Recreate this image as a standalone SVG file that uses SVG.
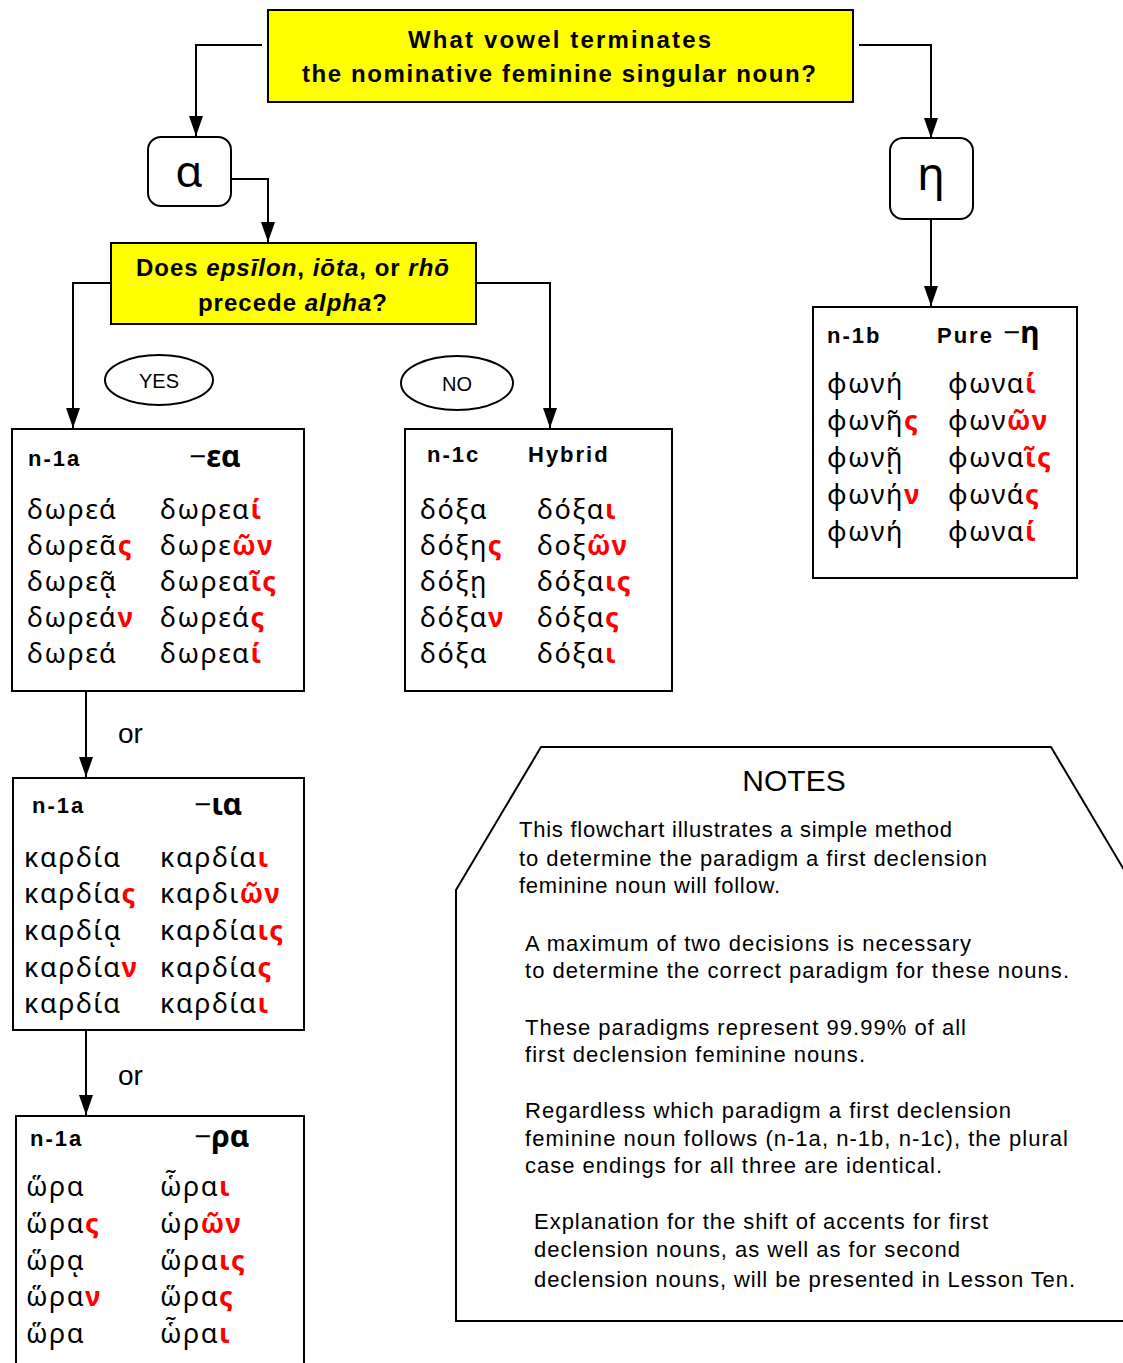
<svg xmlns="http://www.w3.org/2000/svg" width="1123" height="1363" viewBox="0 0 1123 1363">
<defs>
<marker id="arr" viewBox="0 0 20 14" refX="20" refY="7" markerWidth="20" markerHeight="14" markerUnits="userSpaceOnUse" orient="auto">
<path d="M0,0 L20,7 L0,14 z" fill="#000"/>
</marker>
<style>
.box{fill:#fff;stroke:#000;stroke-width:2}
.ybox{fill:#ffff00;stroke:#000;stroke-width:2}
.con{fill:none;stroke:#000;stroke-width:2;marker-end:url(#arr)}
.q{font-family:"Liberation Sans",Arial,sans-serif;font-weight:bold;font-size:24px;fill:#000}
.hd{font-family:"Liberation Sans",Arial,sans-serif;font-weight:bold;font-size:22px;letter-spacing:2px;fill:#000}
.gh{font-family:"Noto Sans","DejaVu Sans",sans-serif;font-weight:bold;font-size:30px;fill:#000}
.g{font-family:"Noto Sans","DejaVu Sans",sans-serif;font-size:27px;letter-spacing:1.5px;fill:#000}
.r{fill:#ff0000;font-weight:bold}
.lbl{font-family:"Liberation Sans",Arial,sans-serif;font-size:20px;fill:#000}
.or{font-family:"Liberation Sans",Arial,sans-serif;font-size:28px;fill:#000}
.nt{font-family:"Liberation Sans",Arial,sans-serif;font-size:22px;fill:#000}
</style>
</defs>
<rect width="1123" height="1363" fill="#fff"/>

<g id="connectors">
<polyline class="con" points="262,45 196,45 196,136"/>
<polyline class="con" points="859,45 931,45 931,138"/>
<polyline class="con" points="231,179 268,179 268,242"/>
<polyline class="con" points="111,283 73,283 73,428"/>
<polyline class="con" points="476,283 550,283 550,428"/>
<polyline class="con" points="931,219 931,306"/>
<polyline class="con" points="86,691 86,777"/>
<polyline class="con" points="86,1030 86,1115"/>
<text class="or" x="118" y="743">or</text>
<text class="or" x="118" y="1085">or</text>
</g>

<g id="q1">
<rect class="ybox" x="268" y="10" width="585" height="92"/>
<text class="q" x="408" y="48" textLength="303" lengthAdjust="spacing">What vowel terminates</text>
<text class="q" x="302" y="82" textLength="514" lengthAdjust="spacing">the nominative feminine singular noun?</text>
</g>

<g id="alpha">
<rect class="box" x="148" y="137" width="83" height="69" rx="13"/>
<text x="189" y="187" text-anchor="middle" font-family="Noto Sans,DejaVu Sans,sans-serif" font-size="44">α</text>
</g>

<g id="eta">
<rect class="box" x="890" y="138" width="83" height="81" rx="13"/>
<text x="931" y="190" text-anchor="middle" font-family="Noto Sans,DejaVu Sans,sans-serif" font-size="46">η</text>
</g>

<g id="q2">
<rect class="ybox" x="111" y="243" width="365" height="81"/>
<text class="q" x="293" y="276" text-anchor="middle" letter-spacing="1">Does <tspan font-style="italic">epsīlon</tspan>, <tspan font-style="italic">iōta</tspan>, or <tspan font-style="italic">rhō</tspan></text>
<text class="q" x="293" y="311" text-anchor="middle" letter-spacing="1">precede <tspan font-style="italic">alpha</tspan>?</text>
</g>

<g id="yes">
<ellipse cx="159" cy="380" rx="54" ry="25" fill="#fff" stroke="#000" stroke-width="2"/>
<text class="lbl" x="159" y="388" text-anchor="middle">YES</text>
</g>

<g id="no">
<ellipse cx="457" cy="383" rx="56" ry="27" fill="#fff" stroke="#000" stroke-width="2"/>
<text class="lbl" x="457" y="391" text-anchor="middle">NO</text>
</g>

<g id="n1a-ea">
<rect class="box" x="12" y="429" width="292" height="262"/>
<text class="hd" x="28" y="466">n-1a</text>
<text class="gh" x="189" y="467"><tspan font-weight="normal">−</tspan>εα</text>
<text class="g" x="27" y="519">δωρεά</text>
<text class="g" x="27" y="555">δωρεᾶ<tspan class="r">ς</tspan></text>
<text class="g" x="27" y="591">δωρεᾷ</text>
<text class="g" x="27" y="627">δωρεά<tspan class="r">ν</tspan></text>
<text class="g" x="27" y="663">δωρεά</text>
<text class="g" x="160" y="519">δωρεα<tspan class="r">ί</tspan></text>
<text class="g" x="160" y="555">δωρε<tspan class="r">ῶν</tspan></text>
<text class="g" x="160" y="591">δωρεα<tspan class="r">ῖς</tspan></text>
<text class="g" x="160" y="627">δωρεά<tspan class="r">ς</tspan></text>
<text class="g" x="160" y="663">δωρεα<tspan class="r">ί</tspan></text>
</g>

<g id="n1c">
<rect class="box" x="405" y="429" width="267" height="262"/>
<text class="hd" x="427" y="462">n-1c</text>
<text class="hd" x="528" y="462">Hybrid</text>
<text class="g" x="420" y="519">δόξα</text>
<text class="g" x="420" y="555">δόξη<tspan class="r">ς</tspan></text>
<text class="g" x="420" y="591">δόξῃ</text>
<text class="g" x="420" y="627">δόξα<tspan class="r">ν</tspan></text>
<text class="g" x="420" y="663">δόξα</text>
<text class="g" x="537" y="519">δόξα<tspan class="r">ι</tspan></text>
<text class="g" x="537" y="555">δοξ<tspan class="r">ῶν</tspan></text>
<text class="g" x="537" y="591">δόξα<tspan class="r">ις</tspan></text>
<text class="g" x="537" y="627">δόξα<tspan class="r">ς</tspan></text>
<text class="g" x="537" y="663">δόξα<tspan class="r">ι</tspan></text>
</g>

<g id="n1b">
<rect class="box" x="813" y="307" width="264" height="271"/>
<text class="hd" x="827" y="343">n-1b</text>
<text class="hd" x="937" y="343">Pure</text>
<text class="gh" x="1003" y="343" font-size="28"><tspan font-weight="normal">−</tspan>η</text>
<text class="g" x="827" y="393">φωνή</text>
<text class="g" x="827" y="430">φωνῆ<tspan class="r">ς</tspan></text>
<text class="g" x="827" y="467">φωνῇ</text>
<text class="g" x="827" y="504">φωνή<tspan class="r">ν</tspan></text>
<text class="g" x="827" y="541">φωνή</text>
<text class="g" x="948" y="393">φωνα<tspan class="r">ί</tspan></text>
<text class="g" x="948" y="430">φων<tspan class="r">ῶν</tspan></text>
<text class="g" x="948" y="467">φωνα<tspan class="r">ῖς</tspan></text>
<text class="g" x="948" y="504">φωνά<tspan class="r">ς</tspan></text>
<text class="g" x="948" y="541">φωνα<tspan class="r">ί</tspan></text>
</g>

<g id="n1a-ia">
<rect class="box" x="13" y="778" width="291" height="252"/>
<text class="hd" x="32" y="813">n-1a</text>
<text class="gh" x="194" y="815"><tspan font-weight="normal">−</tspan>ια</text>
<text class="g" x="24" y="867">καρδία</text>
<text class="g" x="24" y="903">καρδία<tspan class="r">ς</tspan></text>
<text class="g" x="24" y="940">καρδίᾳ</text>
<text class="g" x="24" y="977">καρδία<tspan class="r">ν</tspan></text>
<text class="g" x="24" y="1013">καρδία</text>
<text class="g" x="160" y="867">καρδία<tspan class="r">ι</tspan></text>
<text class="g" x="160" y="903">καρδι<tspan class="r">ῶν</tspan></text>
<text class="g" x="160" y="940">καρδία<tspan class="r">ις</tspan></text>
<text class="g" x="160" y="977">καρδία<tspan class="r">ς</tspan></text>
<text class="g" x="160" y="1013">καρδία<tspan class="r">ι</tspan></text>
</g>

<g id="n1a-ra">
<rect class="box" x="16" y="1116" width="288" height="260"/>
<text class="hd" x="30" y="1146">n-1a</text>
<text class="gh" x="194" y="1147"><tspan font-weight="normal">−</tspan>ρα</text>
<text class="g" x="26" y="1196">ὥρα</text>
<text class="g" x="26" y="1233">ὥρα<tspan class="r">ς</tspan></text>
<text class="g" x="26" y="1270">ὥρᾳ</text>
<text class="g" x="26" y="1306">ὥρα<tspan class="r">ν</tspan></text>
<text class="g" x="26" y="1343">ὥρα</text>
<text class="g" x="160" y="1196">ὧρα<tspan class="r">ι</tspan></text>
<text class="g" x="160" y="1233">ὡρ<tspan class="r">ῶν</tspan></text>
<text class="g" x="160" y="1270">ὥρα<tspan class="r">ις</tspan></text>
<text class="g" x="160" y="1306">ὥρα<tspan class="r">ς</tspan></text>
<text class="g" x="160" y="1343">ὧρα<tspan class="r">ι</tspan></text>
</g>

<g id="notes">
<polygon points="456,1321 456,890 541,747 1051,747 1136,890 1136,1321" fill="#fff" stroke="#000" stroke-width="2"/>
<text x="794" y="791" text-anchor="middle" font-family="Liberation Sans,Arial,sans-serif" font-size="30">NOTES</text>
<text class="nt" x="519" y="837" textLength="433" lengthAdjust="spacing">This flowchart illustrates a simple method</text>
<text class="nt" x="519" y="866" textLength="468" lengthAdjust="spacing">to determine the paradigm a first declension</text>
<text class="nt" x="519" y="893" textLength="261" lengthAdjust="spacing">feminine noun will follow.</text>
<text class="nt" x="525" y="951" textLength="446" lengthAdjust="spacing">A maximum of two decisions is necessary</text>
<text class="nt" x="525" y="978" textLength="544" lengthAdjust="spacing">to determine the correct paradigm for these nouns.</text>
<text class="nt" x="525" y="1035" textLength="441" lengthAdjust="spacing">These paradigms represent 99.99% of all</text>
<text class="nt" x="525" y="1062" textLength="340" lengthAdjust="spacing">first declension feminine nouns.</text>
<text class="nt" x="525" y="1118" textLength="486" lengthAdjust="spacing">Regardless which paradigm a first declension</text>
<text class="nt" x="525" y="1146" textLength="543" lengthAdjust="spacing">feminine noun follows (n-1a, n-1b, n-1c), the plural</text>
<text class="nt" x="525" y="1173" textLength="417" lengthAdjust="spacing">case endings for all three are identical.</text>
<text class="nt" x="534" y="1229" textLength="454" lengthAdjust="spacing">Explanation for the shift of accents for first</text>
<text class="nt" x="534" y="1257" textLength="426" lengthAdjust="spacing">declension nouns, as well as for second</text>
<text class="nt" x="534" y="1287" textLength="541" lengthAdjust="spacing">declension nouns, will be presented in Lesson Ten.</text>
</g>
</svg>
